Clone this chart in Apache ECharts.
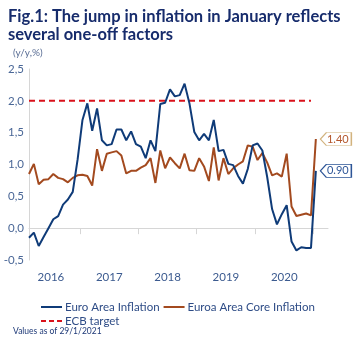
<!DOCTYPE html>
<html>
<head>
<meta charset="utf-8">
<title>Euro area inflation</title>
<script src="https://cdn.jsdelivr.net/npm/echarts@6/dist/echarts.min.js"></script>
<style>
  html, body { margin: 0; padding: 0; background: #ffffff; }
  #chart { width: 361px; height: 337px; }
</style>
</head>
<body>
<div id="chart"></div>
<script>
// Monthly observations, February 2016 to January 2021
const months = [
  '2016-02','2016-03','2016-04','2016-05','2016-06','2016-07','2016-08','2016-09','2016-10','2016-11','2016-12',
  '2017-01','2017-02','2017-03','2017-04','2017-05','2017-06','2017-07','2017-08','2017-09','2017-10','2017-11','2017-12',
  '2018-01','2018-02','2018-03','2018-04','2018-05','2018-06','2018-07','2018-08','2018-09','2018-10','2018-11','2018-12',
  '2019-01','2019-02','2019-03','2019-04','2019-05','2019-06','2019-07','2019-08','2019-09','2019-10','2019-11','2019-12',
  '2020-01','2020-02','2020-03','2020-04','2020-05','2020-06','2020-07','2020-08','2020-09','2020-10','2020-11','2020-12',
  '2021-01'
];

// Headline HICP, y/y %
const euroAreaInflation = [
  -0.15, -0.07, -0.28, -0.14, 0.00, 0.14, 0.19, 0.37, 0.45, 0.57, 1.08,
  1.70, 1.96, 1.53, 1.88, 1.38, 1.30, 1.32, 1.55, 1.55, 1.38, 1.52, 1.32,
  1.28, 1.10, 1.38, 1.21, 1.95, 1.97, 2.18, 2.07, 2.09, 2.27, 1.96, 1.51,
  1.38, 1.48, 1.38, 1.70, 1.21, 1.23, 1.01, 0.99, 0.82, 0.70, 0.93, 1.30,
  1.33, 1.22, 0.80, 0.30, 0.06, 0.22, 0.36, -0.21, -0.35, -0.30, -0.31, -0.31,
  0.90
];

// Core HICP, y/y %
const coreInflation = [
  0.85, 1.01, 0.69, 0.76, 0.77, 0.85, 0.79, 0.77, 0.72, 0.79, 0.83,
  0.84, 0.82, 0.67, 1.24, 0.90, 1.17, 1.19, 1.21, 1.14, 0.86, 0.90, 0.90,
  0.95, 0.99, 1.10, 0.71, 1.22, 0.94, 1.11, 1.02, 0.94, 1.17, 0.91, 0.90,
  1.10, 0.97, 0.74, 1.27, 0.75, 1.10, 0.85, 0.94, 1.00, 1.05, 1.30, 1.28,
  1.07, 1.18, 1.03, 0.83, 0.86, 0.81, 1.17, 0.34, 0.19, 0.21, 0.23, 0.20,
  1.40
];

// ECB target level and the months it is drawn across
const ecbTarget = 2.0;
const ecbSpan = ['2016-02', '2020-12'];

// Year labels on the horizontal axis
const years = [2016, 2017, 2018, 2019, 2020];

const yTicks = { min: -0.5, max: 2.5, step: 0.5 };

// month string -> months since January 2016
function monthIndex(m) {
  const [y, mo] = m.split('-').map(Number);
  return (y - 2016) * 12 + (mo - 1);
}
const pairs = (vals) => months.map((m, i) => [monthIndex(m), vals[i]]);

const tickValues = years.slice(1).concat([years[years.length - 1] + 1])
  .map(y => monthIndex(y + '-01') - 0.5);
const labelValues = years.map(y => monthIndex(y + '-01') + 5.5);

const navy = '#0f3b78';
const rust = '#a34a1f';
const red = '#d9121b';
const textBlue = '#2e4c86';
const FONT = 'Lato, "Noto Sans", sans-serif';

// legend glyphs: solid stroke and dashed stroke
const solidIcon = 'path://M0,0 H21 V2 H0 Z';
const dashedIcon = 'path://M0,0 H5 V2 H0 Z M8,0 H13 V2 H8 Z M16,0 H21 V2 H16 Z';

// left-pointing tag for the latest value
const tagPath = 'path://M0,6 L6,0 L31,0 L31,12 L6,12 Z';

function lastTag(vals, border, txt) {
  const lastIdx = vals.length - 1;
  return {
    symbol: tagPath,
    symbolSize: [31, 13],
    symbolKeepAspect: false,
    symbolOffset: [20, 0],
    silent: true,
    itemStyle: { color: '#ffffff', borderColor: border, borderWidth: 1 },
    label: {
      show: true,
      position: 'inside',
      offset: [2, 0],
      color: txt,
      fontFamily: FONT,
      fontSize: 11,
      formatter: (p) => Number(p.value).toFixed(2)
    },
    data: [{ coord: [monthIndex(months[lastIdx]), vals[lastIdx]], value: vals[lastIdx] }]
  };
}

const chart = echarts.init(document.getElementById('chart'), null, { renderer: 'canvas' });

chart.setOption({
  animation: false,
  backgroundColor: '#ffffff',
  textStyle: { fontFamily: FONT },
  title: [
    {
      text: 'Fig.1: The jump in inflation in January reflects\nseveral one-off factors',
      left: 3, top: 2,
      textStyle: { fontFamily: FONT, fontWeight: 'bold', fontSize: 16.5, lineHeight: 18.5, color: '#172c6c' }
    },
    {
      text: '(y/y,%)',
      left: 8, top: 43,
      textStyle: { fontFamily: FONT, fontWeight: 'normal', fontSize: 10, color: '#5a6e95' }
    },
    {
      text: 'Values as of 29/1/2021',
      left: 8, top: 322,
      textStyle: { fontFamily: FONT, fontWeight: 'normal', fontSize: 8.5, color: '#1f3a78' }
    }
  ],
  grid: { left: 29, right: 33, top: 69, bottom: 77, containLabel: false },
  xAxis: {
    type: 'value',
    min: 1,
    max: 62.5,
    splitLine: { show: false },
    axisLine: { show: true, lineStyle: { color: '#d6d6d6', width: 1 } },
    axisTick: { show: true, length: 6, customValues: tickValues, lineStyle: { color: '#d6d6d6' } },
    axisLabel: {
      customValues: labelValues,
      margin: 11,
      color: '#3b5a8f',
      fontSize: 11.5,
      fontFamily: FONT,
      formatter: (v) => String(2016 + Math.floor(v / 12))
    }
  },
  yAxis: {
    type: 'value',
    min: yTicks.min,
    max: yTicks.max,
    interval: yTicks.step,
    splitLine: { show: false },
    axisLine: { show: true, lineStyle: { color: '#d6d6d6', width: 1 } },
    axisTick: { show: false },
    axisLabel: {
      margin: 5,
      color: '#4a6797',
      fontSize: 11.5,
      fontFamily: FONT,
      formatter: (v) => v.toFixed(1).replace('.', ',')
    }
  },
  legend: [
    {
      left: 36, top: 296,
      itemWidth: 21, itemHeight: 2, itemGap: 4,
      textStyle: { color: textBlue, fontSize: 11.5, fontFamily: FONT, padding: [0, 0, 0, -2] },
      data: [
        { name: 'Euro Area Inflation', icon: solidIcon },
        { name: 'Euroa Area Core Inflation', icon: solidIcon }
      ]
    },
    {
      left: 36, top: 310,
      itemWidth: 21, itemHeight: 2,
      textStyle: { color: textBlue, fontSize: 11.5, fontFamily: FONT, padding: [0, 0, 0, -2] },
      data: [{ name: 'ECB target', icon: dashedIcon }]
    }
  ],
  series: [
    {
      name: 'ECB target',
      type: 'line',
      symbol: 'none',
      data: ecbSpan.map(m => [monthIndex(m), ecbTarget]),
      lineStyle: { color: red, width: 2, type: [6, 4] },
      itemStyle: { color: red },
      z: 1
    },
    {
      name: 'Euroa Area Core Inflation',
      type: 'line',
      symbol: 'none',
      data: pairs(coreInflation),
      lineStyle: { color: rust, width: 2 },
      itemStyle: { color: rust },
      markPoint: lastTag(coreInflation, '#d2b37e', '#b3562b'),
      z: 2
    },
    {
      name: 'Euro Area Inflation',
      type: 'line',
      symbol: 'none',
      data: pairs(euroAreaInflation),
      lineStyle: { color: navy, width: 2 },
      itemStyle: { color: navy },
      markPoint: lastTag(euroAreaInflation, '#2d5597', '#2d5597'),
      z: 3
    }
  ]
});
</script>
</body>
</html>
